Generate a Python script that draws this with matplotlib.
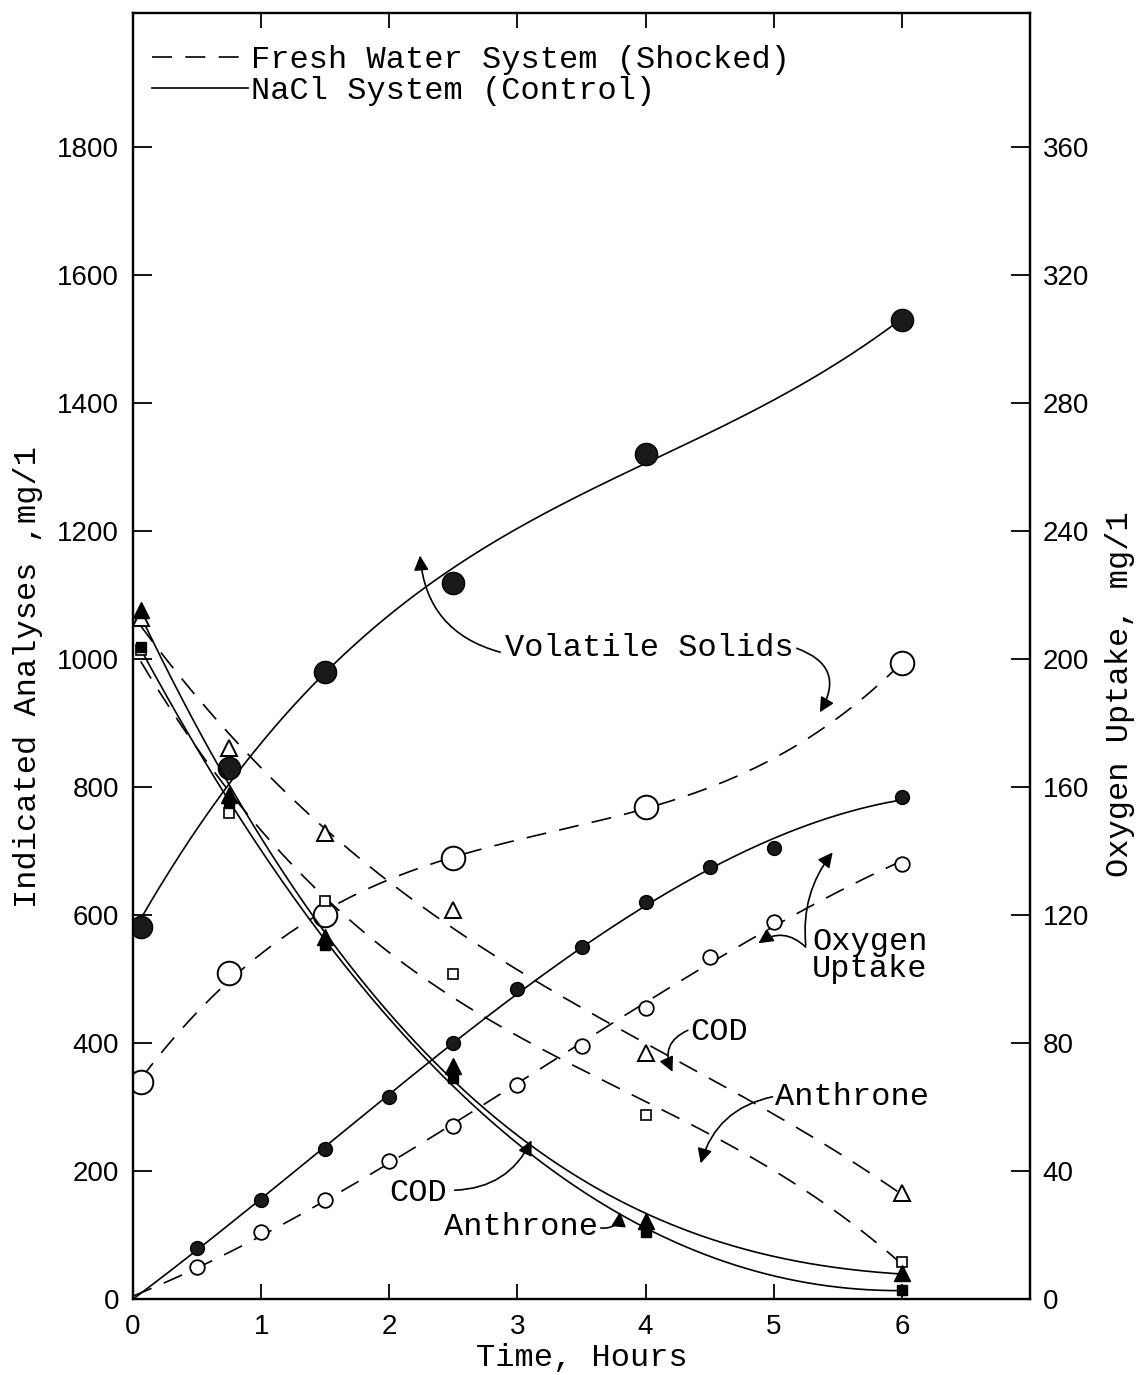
import numpy as np
from matplotlib import pyplot as plt
from matplotlib.lines import Line2D

# sampling times of the batch analyses (hours)
hours = [0.06, 0.75, 1.5, 2.5, 4.0, 6.0]

# volatile solids, mg/l
vs_nacl = [581, 830, 980, 1119, 1320, 1530]
vs_fresh = [339, 509, 600, 689, 769, 994]

# COD, mg/l
cod_nacl = [1077, 788, 566, 364, 122, 41]
cod_fresh = [1065, 861, 728, 608, 384, 166]

# anthrone, mg/l
anth_nacl = [1019, 775, 553, 345, 105, 14]
anth_fresh = [1015, 760, 622, 508, 288, 58]

# oxygen uptake, mg/l (right axis)
o2_hours = [0.5, 1.0, 1.5, 2.0, 2.5, 3.0, 3.5, 4.0, 4.5, 5.0, 6.0]
o2_nacl = [16, 31, 47, 63, 80, 97, 110, 124, 135, 141, 157]
o2_fresh = [10, 21, 31, 43, 54, 67, 79, 91, 107, 118, 136]

left_ticks = list(range(0, 2000, 200))
right_ticks = list(range(0, 400, 40))
hour_ticks = [0, 1, 2, 3, 4, 5, 6]

MONO = 'Liberation Mono'
NUM = 'Liberation Sans'
DASH = (12, 8)


def fitted(x, y, deg=3):
    # smooth hand-drawn style curve through the plotted points
    c = np.polyfit(x, y, deg)
    xs = np.linspace(x[0], x[-1], 300)
    return xs, np.polyval(c, xs)


fig = plt.figure(figsize=(11.39, 13.75), dpi=100)
ax = fig.add_axes([0.1168, 0.0553, 0.7875, 0.9352])
ax2 = ax.twinx()

ax.set_xlim(0, 7.0)
ax.set_ylim(0, 2010)
ax2.set_ylim(0, 402)

lw = 1.2
# volatile solids
ax.plot(*fitted(hours, vs_nacl), color='black', lw=lw)
ax.plot(hours, vs_nacl, 'o', ms=16, color='#1a1a1a', mec='black')
ax.plot(*fitted(hours, vs_fresh), color='black', lw=lw, dashes=DASH)
ax.plot(hours, vs_fresh, 'o', ms=17, mfc='white', mec='black', mew=1.4)

# COD and anthrone
ax.plot(*fitted(hours, cod_nacl), color='black', lw=lw)
ax.plot(*fitted(hours, anth_nacl), color='black', lw=lw)
ax.plot(*fitted(hours, cod_fresh), color='black', lw=lw, dashes=DASH)
ax.plot(*fitted(hours, anth_fresh), color='black', lw=lw, dashes=DASH)
ax.plot(hours, anth_fresh, 's', ms=7, mfc='white', mec='black', mew=1.2)
ax.plot(hours, cod_fresh, '^', ms=12, mfc='white', mec='black', mew=1.4)
ax.plot(hours, anth_nacl, 's', ms=7, color='black')
ax.plot(hours, cod_nacl, '^', ms=12, color='black')

# oxygen uptake on the right hand scale
xo = [0] + o2_hours
ax2.plot(*fitted(xo, [0] + o2_nacl), color='black', lw=lw)
ax2.plot(*fitted(xo, [0] + o2_fresh), color='black', lw=lw, dashes=DASH)
ax2.plot(o2_hours, o2_nacl, 'o', ms=10, color='#1a1a1a', mec='black')
ax2.plot(o2_hours, o2_fresh, 'o', ms=10.5, mfc='white', mec='black', mew=1.3)

# axes, ticks
for a in (ax, ax2):
    for s in a.spines.values():
        s.set_linewidth(1.6)
ax.set_xticks(hour_ticks)
ax.set_yticks(left_ticks)
ax2.set_yticks(right_ticks)
ax.tick_params(axis='y', direction='in', length=14, width=1.3, pad=10, labelsize=20)
ax.tick_params(axis='x', direction='in', length=11, width=1.3, pad=11, labelsize=20,
               top=True)
ax2.tick_params(axis='y', direction='in', length=14, width=1.3, pad=9, labelsize=20)
for lab in ax.get_xticklabels() + ax.get_yticklabels() + ax2.get_yticklabels():
    lab.set_fontfamily(NUM)

ax.set_xlabel('Time, Hours', fontfamily=MONO, fontsize=23, labelpad=2)
ax.set_ylabel('Indicated Analyses ,mg/1', fontfamily=MONO, fontsize=23)
ax.yaxis.set_label_coords(-0.1, 0.484)
ax2.set_ylabel('Oxygen Uptake, mg/1', fontfamily=MONO, fontsize=23)
ax2.yaxis.set_label_coords(1.084, 0.47)

# legend
handles = [Line2D([], [], color='black', lw=lw, dashes=DASH),
           Line2D([], [], color='black', lw=lw)]
ax.legend(handles, ['Fresh Water System (Shocked)', 'NaCl System (Control)'],
          loc='upper left', bbox_to_anchor=(0, 0.99), frameon=False,
          prop={'family': MONO, 'size': 23}, handlelength=3.0,
          handletextpad=0.1, labelspacing=0.02, borderaxespad=0.2)

# curve labels and their hand drawn arrows
tf = dict(fontfamily=MONO, fontsize=23, va='center')
ax.text(2.90, 1017, 'Volatile Solids', ha='left', **tf)
ax.text(5.30, 537, 'Oxygen\nUptake', ha='left', linespacing=0.85, **tf)
ax.text(4.35, 417, 'COD', ha='left', **tf)
ax.text(5.01, 316, 'Anthrone', ha='left', **tf)
ax.text(2.45, 166, 'COD', ha='right', **tf)
ax.text(3.63, 112, 'Anthrone', ha='right', **tf)

arrows = [
    ((2.865, 1011), (2.24, 1162), -0.35),
    ((5.18, 1017), (5.36, 917), -0.6),
    ((5.25, 553), (5.46, 698), -0.2),
    ((5.25, 550), (4.88, 556), 0.4),
    ((4.33, 420), (4.21, 355), 0.5),
    ((4.99, 316), (4.43, 212), 0.3),
    ((2.51, 170), (3.11, 248), 0.3),
    ((3.65, 111), (3.80, 136), 0.5),
]
for start, tip, rad in arrows:
    ax.annotate('', xy=tip, xytext=start,
                arrowprops=dict(arrowstyle='-|>', color='black', lw=1.2,
                                mutation_scale=22, shrinkA=0, shrinkB=0,
                                connectionstyle='arc3,rad=%s' % rad))

fig.savefig('out.png', dpi=100, facecolor='white')
